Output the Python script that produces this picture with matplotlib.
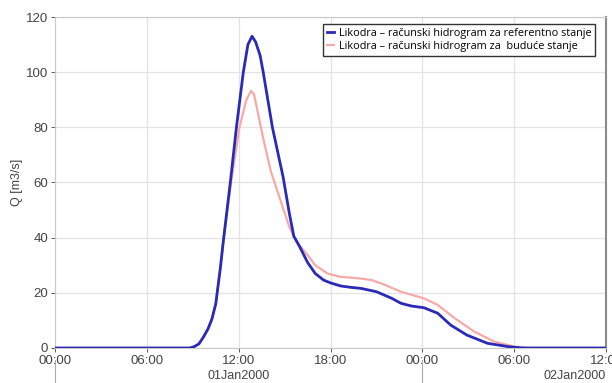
import matplotlib
matplotlib.use("Agg")
import matplotlib.pyplot as plt
import matplotlib.transforms as mtransforms

# hours since 01Jan2000 00:00
ref_hours = [0, 8.8, 9.1, 9.4, 9.7, 10.0, 10.25, 10.5, 10.8, 11.0, 11.45, 11.85,
             12.3, 12.6, 12.87, 13.1, 13.4, 13.6, 14.2, 14.9, 15.3, 15.6, 16.0,
             16.5, 17.0, 17.55, 18.0, 18.65, 19.3, 20.0, 21.0, 22.0, 22.6, 23.3,
             24.1, 25.0, 25.85, 26.9, 28.25, 29.6, 30.5, 36]
ref_q = [0, 0, 0.5, 1.5, 4, 7, 10.5, 16, 29, 39, 60, 80,
         100, 110, 113, 111, 106, 100, 80, 62, 49, 40.5, 36.5,
         31, 27, 24.6, 23.6, 22.5, 22, 21.6, 20.4, 18, 16.2, 15.2,
         14.6, 12.6, 8.3, 4.7, 1.7, 0.5, 0, 0]

fut_hours = [0, 8.8, 9.1, 9.4, 9.7, 10.0, 10.25, 10.5, 10.8, 11.0, 11.5, 12.05,
             12.5, 12.8, 13.0, 13.6, 14.1, 14.7, 15.3, 15.6, 16.0, 16.5, 17.0,
             17.8, 18.65, 19.96, 20.7, 21.5, 22.6, 24.1, 25.0, 26.1, 27.4, 28.7,
             30.0, 31.0, 36]
fut_q = [0, 0, 0.5, 1.5, 4, 7, 10.5, 16, 29, 39, 60, 80,
         90, 93.2, 92, 76, 64, 54, 44, 40.5, 37, 33.7, 30,
         27, 25.8, 25.2, 24.6, 23, 20.4, 18, 15.6, 10.8, 5.9, 2.3,
         0.5, 0, 0]

tick_hours = [0, 6, 12, 18, 24, 30, 36]
tick_labels = ["00:00", "06:00", "12:00", "18:00", "00:00", "06:00", "12:00"]
day_labels = ["01Jan2000", "02Jan2000"]
label_ref = "Likodra \u2013 ra\u010dunski hidrogram za referentno stanje"
label_fut = "Likodra \u2013 ra\u010dunski hidrogram za  budu\u0107e stanje"

plt.rcParams["font.family"] = ["Liberation Sans", "DejaVu Sans"]

fig = plt.figure(figsize=(6.12, 3.83), dpi=100)
ax = fig.add_axes([0.0899, 0.0914, 0.9005, 0.8642])

ax.plot(ref_hours, ref_q, color="#2a2ab8", lw=2.0, label=label_ref, zorder=3)
ax.plot(fut_hours, fut_q, color="#f7a9a8", lw=1.6, label=label_fut, zorder=2)

ax.set_xlim(0, 36)
ax.set_ylim(0, 120)
ax.set_xticks(tick_hours)
ax.set_xticklabels(tick_labels)
ax.set_yticks(range(0, 121, 20))
ax.tick_params(labelsize=9.5, colors="#444444", length=3, width=0.6, pad=2)
ax.grid(True, color="#e3e3e3", lw=0.9)
ax.set_axisbelow(True)
for side in ["left", "bottom", "top"]:
    ax.spines[side].set_color("#c8c8c8")
ax.spines["right"].set_color("#8a8a8a")
ax.spines["right"].set_linewidth(1.5)
ax.set_ylabel("Q [m3/s]", fontsize=9, color="#444444", labelpad=2)

# day row below the time ticks
trans = mtransforms.blended_transform_factory(ax.transData, fig.transFigure)
ax.text(12, 0.003, day_labels[0], transform=trans, ha="center", va="bottom",
        fontsize=9, color="#444444")
ax.text(36, 0.003, day_labels[1], transform=trans, ha="right", va="bottom",
        fontsize=9, color="#444444")
for h in [0, 24]:
    ax.plot([h, h], [0.06, 0.0], transform=trans, color="#aaaaaa",
            lw=0.8, clip_on=False)

leg = ax.legend(loc="upper right", bbox_to_anchor=(0.99, 0.995),
                handlelength=0.7, handletextpad=0.4, borderpad=0.35,
                labelspacing=0.2, fancybox=False, framealpha=1,
                prop={"family": ["Open Sans", "DejaVu Sans"], "size": 7.8})
leg.get_frame().set_edgecolor("#333333")
leg.get_frame().set_linewidth(1.0)

fig.savefig("out.png", dpi=100)
